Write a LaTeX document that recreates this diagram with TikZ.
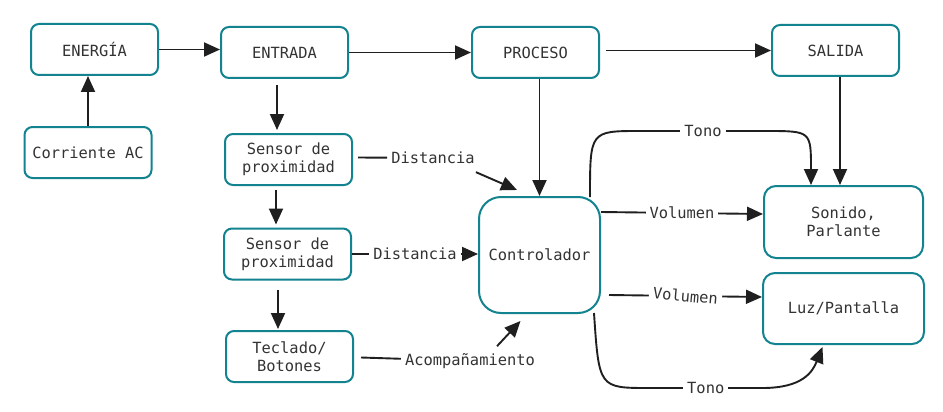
\documentclass[tikz,border=0pt]{standalone}
\usepackage{fontspec}
\setmonofont{DejaVu Sans Mono}
\usetikzlibrary{arrows.meta,calc}
\definecolor{tealb}{HTML}{12838F}
\definecolor{inkc}{HTML}{1F1F1F}
\definecolor{txtc}{HTML}{333333}
\tikzset{
	blk/.style={draw=tealb,line width=2pt,rounded corners=8pt,minimum width=127pt,minimum height=51pt,inner sep=2pt,align=center,text=txtc,font=\ttfamily\fontsize{15.4}{18}\selectfont},
	ln/.style={draw=inkc,line width=1.9pt},
	con/.style={ln,-{Triangle[length=16pt,width=14pt]}},
	lbl/.style={fill=white,inner sep=4pt,text=txtc,font=\ttfamily\fontsize{15.4}{18}\selectfont}
}
\begin{document}
\begin{tikzpicture}[x=1pt,y=-1pt]
			\useasboundingbox (0,0) rectangle (943,412);
			\path
			(94.5,49.5) node[blk] (en) {ENERGÍA}
			(284.5,52.5) node[blk] (in) {ENTRADA}
			(535.5,52.5) node[blk] (pr) {PROCESO}
			(835.5,50.5) node[blk] (sa) {SALIDA}
			(88,152.5) node[blk] (co) {Corriente AC}
			(288.5,159.5) node[blk] (s1) {Sensor de\\proximidad}
			(287.5,254) node[blk] (s2) {Sensor de\\proximidad}
			(289.5,356.5) node[blk] (te) {Teclado/\\Botones}
			(539.5,255) node[blk,rounded corners=22pt,minimum width=121pt,minimum height=116pt] (ct) {Controlador}
			(843.5,222) node[blk,rounded corners=12pt,minimum width=159pt,minimum height=72pt] (so) {Sonido,\\Parlante}
			(843.5,308.5) node[blk,rounded corners=12pt,minimum width=161pt,minimum height=71pt] (lu) {Luz/Pantalla};
			% main chain
			\draw[con] (co.north) -- (co.north |- en.south);
			\draw[con] (en.east) -- (en.east -| in.west);
			\draw[con] (in.east) -- (in.east -| pr.west);
			\draw[con] ($(pr.east)+(6,-2)$) -- (sa.west);
			\draw[con] (pr.south -| ct.north) -- (ct.north);
			\draw[con] ($(sa.south)+(4.5,0)$) -- ($(so.north)+(-3.5,0)$);
			% sensors
			\draw[con] ($(in.south)+(-7.5,6)$) -- ($(s1.north)+(-11.5,-3)$);
			\draw[con] ($(s1.south)+(-12.5,4)$) -- ($(s2.north)+(-11.5,-3)$);
			\draw[con] ($(s2.south)+(-9.5,9)$) -- ($(te.north)+(-11.5,-1)$);
			\node[lbl] (d1) at (433,158) {Distancia};
			\draw[ln] ($(s1.east)+(5,-2)$) -- (d1);
			\draw[con] ($(d1.south east)+(-3,4)$) -- ($(ct.north west)+(39,-6)$);
			\draw[con] (s2.east) -- node[lbl] (d2) {Distancia} (s2.east -| ct.west);
			\node[lbl] (ac) at (470,361) {Acompañamiento};
			\draw[ln] ($(te.east)+(7,1)$) -- (ac);
			\draw[con] ($(ac.north)+(27,-3)$) -- ($(ct.south)+(-19,7)$);
			% outputs
			\draw[con] ($(ct.north east)+(0,16)$) -- node[lbl] (v1) {Volumen} ($(so.west)+(0,-8)$);
			\draw[con] ($(ct.east)+(8,40)$) -- node[lbl,rotate=-5] (v2) {Volumen} ($(lu.west)+(0,-11.5)$);
			\path
			($(ct.north east)+(-11,1)$) coordinate (t1)
			($(so.north)+(-32.5,0)$) coordinate (t4)
			(700,131) coordinate (tt)
			($(ct.south east)+(-7,-1)$) coordinate (b1)
			($(lu.south)+(-21,2)$) coordinate (b4)
			(700,388) coordinate (bb);
			\draw[con] (t1) .. controls (t1 |- tt) .. ($(t1 |- tt)+(50,0)$) -- node[lbl] (o1) {Tono} ($(t4 |- tt)+(-45,0)$) .. controls (t4 |- tt) .. (t4);
			\draw[con] (b1) .. controls ($(b1 |- bb)+(5,0)$) .. ($(b1 |- bb)+(55,0)$) -- node[lbl] (o2) {Tono} ($(b4 |- bb)+(-60,0)$) .. controls ($(b4 |- bb)+(-20,0)$) and ($(b4)+(-10,25)$) .. (b4);
		\end{tikzpicture}
\end{document}
